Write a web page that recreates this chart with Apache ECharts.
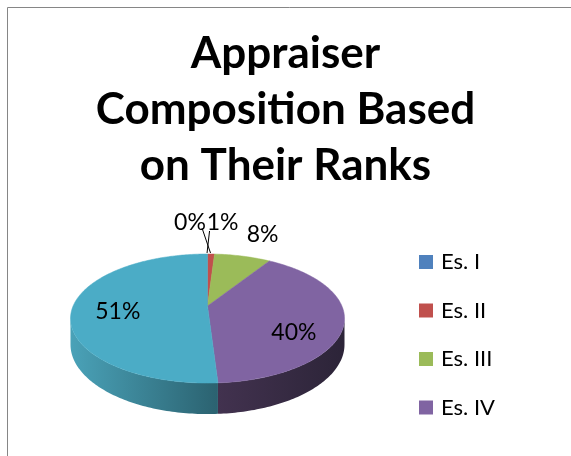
<!DOCTYPE html>
<html><head><meta charset="utf-8">
<script src="https://cdn.jsdelivr.net/npm/echarts@6/dist/echarts.min.js"></script>
<style>html,body{margin:0;padding:0;background:#fff}#c{width:571px;height:456px}</style>
</head><body><div id="c"></div>
<script>
// ---- data ----
const categories = ['Es. I', 'Es. II', 'Es. III', 'Es. IV', 'Es. V'];
const values = [0, 1, 8, 40, 51];
const legendItems = ['Es. I', 'Es. II', 'Es. III', 'Es. IV'];
const titleText = 'Appraiser\nComposition Based\non Their Ranks';

// ---- style ----
const colors = ['#4F81BD', '#C0504D', '#9BBB59', '#8064A2', '#4BACC6'];
// wall shading: [colour at slice start angle, colour at slice end angle]
const wallShades = [
  ['#3c6291', '#3c6291'],
  ['#963c3a', '#963c3a'],
  ['#789146', '#789146'],
  ['#2c2438', '#42324f'],
  ['#2b6270', '#4aa2b8']
];
// label placement relative to the slice (r: radial fraction of anchor, dx/dy: nudge, line: leader)
const labelPlace = [
  { r: 1, dx: -17.5, dy: -31, line: [12, 5, 3, -1] },
  { r: 1, dx: 11.5, dy: -31, line: [-13, 8, -4, -1] },
  { r: 1, dx: 20, dy: -21.5 },
  { r: 0.65, dx: -1, dy: 16.5 },
  { r: 0.65, dx: -2, dy: 4 }
];
const G = { cx: 207.5, cy: 306, A: 134.4, B: 62.1, k: 0.194, D: 25 };
const FONT = 'Lato, "Open Sans", sans-serif';

const total = values.reduce((a, b) => a + b, 0);
const starts = [];
{ let acc = 0; values.forEach(v => { starts.push(acc); acc += v; }); }

function pt(thDeg, r) {
  const t = thDeg * Math.PI / 180;
  const u = r * Math.sin(t), w = -r * Math.cos(t);
  const s = 1 / (1 - G.k * w);
  return [G.cx + G.A * u * s, G.cy + G.B * w * s, s];
}
const visA = Math.acos(-G.k) * 180 / Math.PI, visB = 360 - visA;

function renderSlice(params, api) {
  const i = params.seriesIndex;
  const v = api.value(0);
  const th1 = starts[i] / total * 360, th2 = (starts[i] + v) / total * 360;
  const children = [];
  // wall
  const wa = Math.max(th1, visA), wb = Math.min(th2, visB);
  if (wb > wa) {
    const n = Math.max(2, Math.ceil(wb - wa));
    const top = [], bot = [];
    for (let j = 0; j <= n; j++) {
      const p = pt(wa + (wb - wa) * j / n, 1);
      top.push([p[0], p[1]]);
      bot.push([p[0], p[1] + G.D * p[2]]);
    }
    const xa = top[0][0], xb = top[n][0];
    children.push({
      type: 'polygon', z2: 1,
      shape: { points: top.concat(bot.reverse()) },
      style: {
        fill: {
          type: 'linear', global: true, x: xa, y: 0, x2: xb, y2: 0,
          colorStops: [{ offset: 0, color: wallShades[i][0] }, { offset: 1, color: wallShades[i][1] }]
        }
      }
    });
  }
  // top face
  if (v > 0) {
    const pts = [[G.cx, G.cy]];
    const n = Math.max(2, Math.ceil(th2 - th1));
    for (let j = 0; j <= n; j++) {
      const p = pt(th1 + (th2 - th1) * j / n, 1);
      pts.push([p[0], p[1]]);
    }
    children.push({
      type: 'polygon', z2: 5,
      shape: { points: pts },
      style: { fill: colors[i], stroke: colors[i], lineWidth: 0.5 }
    });
  }
  // label
  const lp = labelPlace[i];
  const mid = (th1 + th2) / 2;
  const anchor = pt(mid, lp.r);
  const rim = pt(mid, 1);
  const lx = anchor[0] + lp.dx, ly = anchor[1] + lp.dy;
  children.push({
    type: 'text', z2: 20,
    style: {
      text: Math.round(v / total * 100) + '%', x: lx, y: ly,
      align: 'center', verticalAlign: 'middle',
      font: '23px ' + FONT, fill: '#000'
    }
  });
  if (lp.line) {
    children.push({
      type: 'line', z2: 19,
      shape: { x1: lx + lp.line[0], y1: ly + lp.line[1], x2: rim[0] + lp.line[2], y2: rim[1] + lp.line[3] },
      style: { stroke: '#000', lineWidth: 1 }
    });
  }
  return { type: 'group', children };
}

const chart = echarts.init(document.getElementById('c'));
chart.setOption({
  animation: false,
  title: {
    text: titleText, left: 'center', top: 26, padding: 0,
    textStyle: { fontFamily: FONT, fontWeight: 'bold', fontSize: 44, lineHeight: 56, color: '#000' }
  },
  legend: {
    data: legendItems, orient: 'vertical', left: 419, top: 251,
    icon: 'rect', itemWidth: 14, itemHeight: 14, itemGap: 26.5, padding: 0,
    textStyle: { fontFamily: FONT, fontSize: 22, lineHeight: 22, color: '#000', padding: [0, 0, 0, 3] },
    selectedMode: false
  },
  graphic: [{
    type: 'rect', shape: { x: 7.5, y: 7.5, width: 800, height: 800 },
    style: { fill: 'none', stroke: '#868686', lineWidth: 1 }, silent: true
  }],
  series: categories.map((name, i) => ({
    type: 'custom', name, coordinateSystem: 'none',
    itemStyle: { color: colors[i] },
    data: [values[i]],
    renderItem: renderSlice
  }))
});
</script></body></html>
